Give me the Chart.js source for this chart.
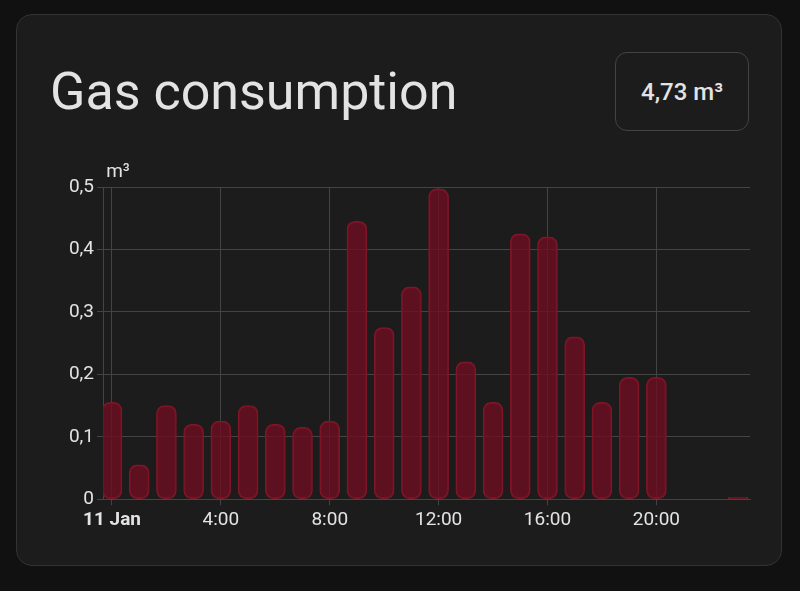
<!DOCTYPE html><html><head><script src="https://cdn.jsdelivr.net/npm/chart.js@4"></script>
<style>body{margin:0;background:#111;width:800px;height:591px;font-family:Roboto,sans-serif}
#card{position:absolute;left:16px;top:14px;width:766px;height:552px;background:#1c1c1c;border:1px solid #333;border-radius:16px;box-sizing:border-box}
#t{position:absolute;left:33px;top:46px;font-size:52px;color:#e3e3e3}
#b{position:absolute;left:598px;top:37px;width:134px;height:79px;border:1px solid #444;border-radius:12px;box-sizing:border-box;color:#e3e3e3;font-size:24px;font-weight:500;display:flex;align-items:center;justify-content:center}
#w{position:absolute;left:40px;top:160px;width:720px;height:376px}</style></head><body>
<div id="card"><div id="t">Gas consumption</div><div id="b">4,73 m³</div></div>
<div id="w"><canvas id="c"></canvas></div>
<script>
const hours=[0,1,2,3,4,5,6,7,8,9,10,11,12,13,14,15,16,17,18,19,20,21,22,23];
const values=[0.155,0.055,0.15,0.12,0.125,0.15,0.12,0.115,0.125,0.445,0.275,0.34,0.497,0.22,0.155,0.425,0.42,0.26,0.155,0.195,0.195,0,0,0.003];
const tickHours=[0,4,8,12,16,20];
const tickLabels=['11 Jan','4:00','8:00','12:00','16:00','20:00'];
new Chart(document.getElementById('c'),{type:'bar',
data:{datasets:[{data:hours.map((h,i)=>({x:h,y:values[i]})),backgroundColor:'rgba(110,14,32,0.8)',borderColor:'#7e1627',borderWidth:1.5,borderRadius:8,borderSkipped:false,barThickness:20}]},
options:{responsive:true,maintainAspectRatio:false,animation:false,plugins:{legend:{display:false},tooltip:{enabled:false}},
layout:{padding:{top:27,right:10}},
scales:{x:{type:'linear',offset:false,min:-0.33,max:23.44,afterBuildTicks:a=>{a.ticks=tickHours.map(v=>({value:v}))},
ticks:{color:'#e3e3e3',maxRotation:0,autoSkip:false,padding:4,callback:v=>tickLabels[tickHours.indexOf(v)],
 font:c=>({family:'Roboto',size:19,weight:c.index===0?'bold':'normal'})},
grid:{offset:false,color:'#444',drawTicks:true,tickLength:6},border:{color:'#444'}},
y:{min:0,max:0.5,afterFit:s=>{s.width=63},ticks:{stepSize:0.1,color:'#e3e3e3',font:{family:'Roboto',size:19},callback:v=>v===0?'0':v.toFixed(1).replace('.',',')},
grid:{color:'#444',tickLength:6},border:{color:'#444'}}}},
plugins:[{id:'u',afterDraw(ch){const g=ch.ctx;g.save();g.fillStyle='#e3e3e3';g.font='19px Roboto';g.textAlign='center';g.fillText('m³',ch.chartArea.left+15,ch.chartArea.top-10);g.restore();}}]});
</script></body></html>
